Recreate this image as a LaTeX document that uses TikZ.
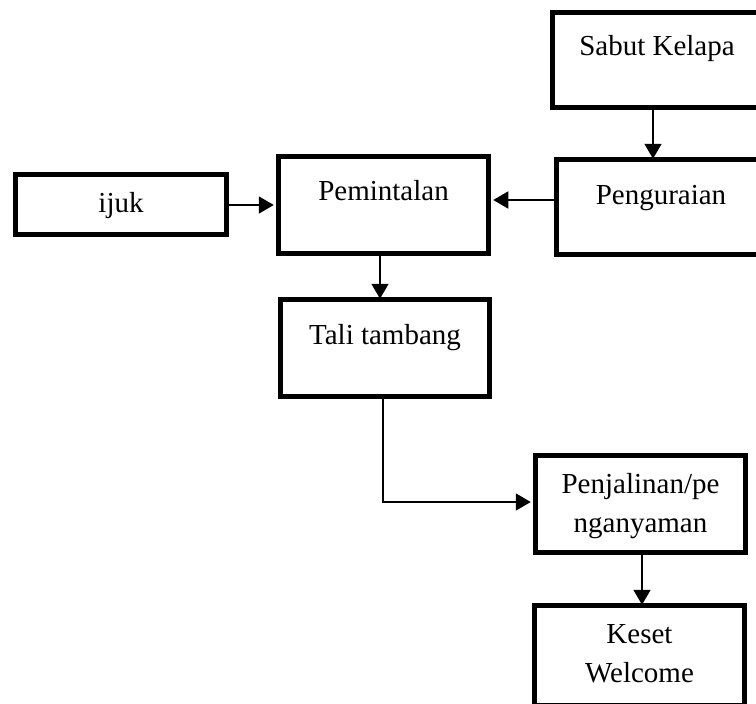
\documentclass[tikz,border=0pt]{standalone}
\usepackage{fontspec}
\setmainfont{Liberation Serif}
\usetikzlibrary{arrows.meta}
\begin{document}
\begin{tikzpicture}[x=1pt,y=-1pt,
  box/.style={draw=black, line width=5.5pt, rectangle, inner sep=0pt, fill=white},
  txt/.style={anchor=base, inner sep=0pt, align=center, font=\fontsize{29}{39}\selectfont},
  arr/.style={draw=black, line width=1.8pt, -{Triangle[length=15pt,width=17pt]}}]
\useasboundingbox (0,0) rectangle (756,704);
\fill[white] (0,0) rectangle (756,704);
% boxes
\node[box, minimum width=209pt, minimum height=95pt] (sabut) at (657,60) {};
\node[box, minimum width=209pt, minimum height=95pt] (pengur) at (661,207) {};
\node[box, minimum width=210pt, minimum height=97pt] (pemint) at (383.5,205) {};
\node[box, minimum width=211pt, minimum height=60pt] (ijuk) at (121,204.5) {};
\node[box, minimum width=209pt, minimum height=97pt] (tali) at (385,348) {};
\node[box, minimum width=210pt, minimum height=97pt] (penjal) at (640.5,504) {};
\node[box, minimum width=210pt, minimum height=100pt] (keset) at (639.5,655.5) {};
% texts
\node[txt] (tsabut) at (657,56) {Sabut Kelapa};
\node[txt] (tpengur) at (661,204) {Penguraian};
\node[txt] (tpemint) at (383.5,200) {Pemintalan};
\node[txt] (tijuk) at (121,212) {ijuk};
\node[txt] (ttali) at (385,344) {Tali tambang};
\node[txt] (tpenjal) at (640.5,532) {Penjalinan/pe\\nganyaman};
\node[txt] (tkeset) at (639.5,682) {Keset\\Welcome};
% helper coordinates
\coordinate (xa) at (653,0);
\coordinate (ya) at (0,200);
\coordinate (yb) at (0,205);
\coordinate (xb) at (380,0);
\coordinate (xc) at (383,0);
\coordinate (yc) at (0,502);
\coordinate (xd) at (642,0);
\coordinate (bend) at (383,502);
% connectors
\draw[arr] (sabut.south -| xa) -- ([yshift=-2pt]pengur.north -| xa);
\draw[arr] (pengur.west |- ya) -- ([xshift=2pt]pemint.east |- ya);
\draw[arr] (ijuk.east |- yb) -- ([xshift=-2pt]pemint.west |- yb);
\draw[arr] (pemint.south -| xb) -- ([yshift=-2pt]tali.north -| xb);
\draw[arr] (tali.south -| xc) -- (bend) -- ([xshift=-2pt]penjal.west |- yc);
\draw[arr] (penjal.south -| xd) -- ([yshift=-2pt]keset.north -| xd);
\end{tikzpicture}
\end{document}
